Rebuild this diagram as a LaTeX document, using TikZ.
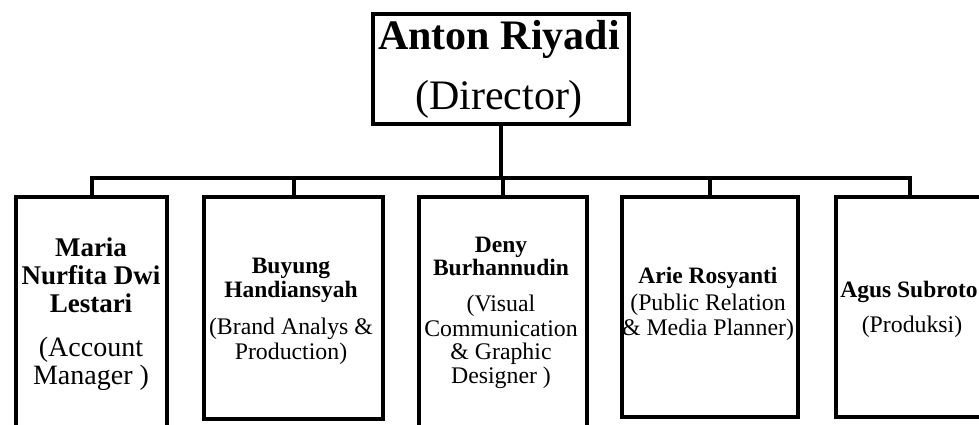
\documentclass[tikz,border=0pt]{standalone}
\usepackage{fontspec}
\setmainfont{Liberation Serif}
\newcommand\tline[4]{\node[anchor=base,inner sep=0pt,#1] (#2) at #3 {#4};}
\begin{document}
\begin{tikzpicture}[x=1pt,y=-1pt,
  frame/.style={draw, line width=4pt, rectangle, inner sep=0pt, anchor=north west},
  conn/.style={draw, line width=4pt},
  nmT/.style={font=\fontsize{42}{50}\selectfont\bfseries},
  rlT/.style={font=\fontsize{42}{50}\selectfont},
  nmA/.style={font=\fontsize{27}{30}\selectfont\bfseries},
  rlA/.style={font=\fontsize{28}{30}\selectfont},
  nmB/.style={font=\fontsize{23.5}{26}\selectfont\bfseries},
  rlB/.style={font=\fontsize{23.8}{26}\selectfont}]
\useasboundingbox (0,0) rectangle (979,425);
% boxes
\node[frame, minimum width=256pt, minimum height=110pt] (top) at (371,12) {};
\node[frame, minimum width=151pt, minimum height=250pt] (b1) at (14,195) {};
\node[frame, minimum width=179pt, minimum height=222pt] (b2) at (202,195) {};
\node[frame, minimum width=168pt, minimum height=250pt] (b3) at (417,195) {};
\node[frame, minimum width=176pt, minimum height=220pt] (b4) at (620,195) {};
\node[frame, minimum width=148pt, minimum height=220pt] (b5) at (834,195) {};
% connectors
\coordinate (bus) at (0,178);
\draw[conn] (top.south) -- (top.south |- bus);
\draw[conn] (b1.north) -- (b1.north |- bus) -- (b5.north |- bus) -- (b5.north);
\draw[conn] (b2.north) -- (b2.north |- bus);
\draw[conn] (b3.north) -- (b3.north |- bus);
\draw[conn] (b4.north) -- (b4.north |- bus);
% texts
\tline{nmT}{t1}{(499,50)}{Anton Riyadi}
\tline{rlT}{t2}{(499,110)}{(Director)}
\tline{nmA}{a1}{(91,256)}{Maria}
\tline{nmA}{a2}{(91,284)}{Nurfita Dwi}
\tline{nmA}{a3}{(91,312)}{Lestari}
\tline{rlA}{a4}{(91,356)}{(Account}
\tline{rlA}{a5}{(91,384)}{Manager )}
\tline{nmB}{c1}{(291,273)}{Buyung}
\tline{nmB}{c2}{(291,297)}{Handiansyah}
\tline{rlB}{c3}{(291,334)}{(Brand Analys \&}
\tline{rlB}{c4}{(291,359)}{Production)}
\tline{nmB}{d1}{(501,252)}{Deny}
\tline{nmB}{d2}{(501,275)}{Burhannudin}
\tline{rlB}{d3}{(501,311)}{(Visual}
\tline{rlB}{d4}{(501,336)}{Communication}
\tline{rlB}{d5}{(501,359)}{\& Graphic}
\tline{rlB}{d6}{(501,383)}{Designer )}
\tline{nmB}{e1}{(708,283)}{Arie Rosyanti}
\tline{rlB}{e2}{(708,310)}{(Public Relation}
\tline{rlB}{e3}{(708,335)}{\& Media Planner)}
\tline{nmB}{f1}{(909,297)}{Agus Subroto}
\tline{rlB}{f2}{(912,332)}{(Produksi)}
\end{tikzpicture}
\end{document}
